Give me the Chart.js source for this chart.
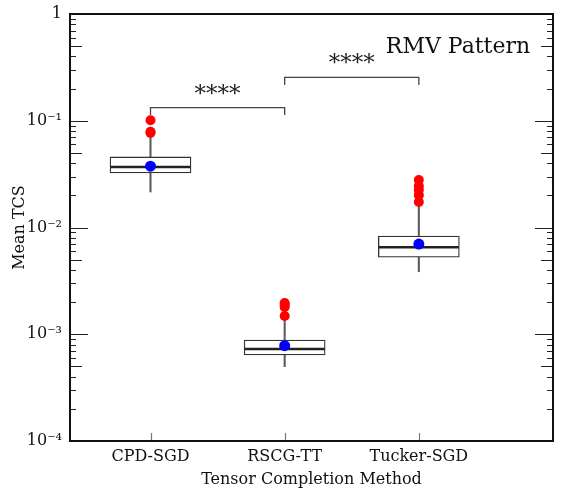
<!DOCTYPE html>
<html>
<head>
<meta charset="utf-8">
<script src="https://cdn.jsdelivr.net/npm/chart.js@4.4.1/dist/chart.umd.min.js"></script>
<style>
  html, body { margin: 0; padding: 0; background: #fff; }
</style>
</head>
<body>
<canvas id="myChart" width="566" height="490"></canvas>
<script>
// data
const methods = ["CPD-SGD", "RSCG-TT", "Tucker-SGD"];
const q1 = [0.0324, 0.000639, 0.00526];
const q3 = [0.0458, 0.000883, 0.00832];
const medians = [0.0369, 0.000727, 0.00652];
const means = [0.0375, 0.000781, 0.0070];
const whiskerLow = [0.0215, 0.000497, 0.00385];
const whiskerHigh = [0.0704, 0.00136, 0.0163];
const outliers = [
  [0.101, 0.0790, 0.0770],
  [0.00196, 0.00188, 0.00180, 0.00148],
  [0.0279, 0.0245, 0.0225, 0.0201, 0.0173]
];
const yTicks = [1e-4, 1e-3, 1e-2, 1e-1, 1];
const yTickLabels = ["10⁻⁴", "10⁻³", "10⁻²", "10⁻¹", "1"];
const brackets = [[0, 1], [1, 2]];
const bracketTop = [0.1325, 0.255];
const bracketLeg = [0.113, 0.216];
const bracketText = ["****", "****"];
const titleText = "RMV Pattern";

const serif = "'DejaVu Serif', serif";

let datasets = [];

// mean markers
datasets.push({
  type: 'scatter',
  order: 0,
  data: means.map((v, i) => ({x: i, y: v})),
  pointRadius: 5.5,
  pointBackgroundColor: '#0000ff',
  pointBorderWidth: 0
});

// outliers
datasets.push({
  type: 'scatter',
  order: 1,
  data: outliers.flatMap((arr, i) => arr.map(v => ({x: i, y: v}))),
  pointRadius: 5,
  pointBackgroundColor: '#ff0000',
  pointBorderWidth: 0
});

// median lines
datasets.push({
  type: 'scatter',
  order: 2,
  data: medians.map((v, i) => ({x: i, y: v})),
  pointStyle: 'line',
  pointRadius: 40,
  pointBorderColor: '#222',
  pointBorderWidth: 2.5
});

// boxes
datasets.push({
  type: 'bar',
  order: 3,
  grouped: false,
  data: q1.map((v, i) => ({x: i, y: [v, q3[i]]})),
  barThickness: 81,
  backgroundColor: '#ffffff',
  borderColor: '#333',
  borderWidth: 1.3,
  borderSkipped: false
});

// whiskers
datasets.push({
  type: 'bar',
  order: 4,
  grouped: false,
  data: whiskerLow.map((v, i) => ({x: i, y: [v, whiskerHigh[i]]})),
  barThickness: 1.4,
  backgroundColor: '#5a5a5a',
  borderWidth: 0
});

// significance brackets
brackets.forEach((pair, k) => {
  datasets.push({
    type: 'line',
    order: 5,
    data: [
      {x: pair[0], y: bracketLeg[k]},
      {x: pair[0], y: bracketTop[k]},
      {x: pair[1], y: bracketTop[k]},
      {x: pair[1], y: bracketLeg[k]}
    ],
    borderColor: '#444',
    borderWidth: 1.3,
    pointRadius: 0,
    fill: false,
    tension: 0
  });
});

let minorTicks = [];
for (let e = -4; e < 0; e++) {
  for (let m = 2; m <= 9; m++) minorTicks.push(m * Math.pow(10, e));
}

const extras = {
  id: 'extras',
  afterDatasetsDraw(chart) {
    const {ctx, chartArea: a, scales: {x, y}} = chart;
    ctx.save();

    // y ticks, inside, both sides
    ctx.strokeStyle = '#222';
    ctx.lineWidth = 1.2;
    const drawY = (v, len) => {
      const py = Math.round(y.getPixelForValue(v)) + 0.5;
      ctx.beginPath();
      ctx.moveTo(a.left, py); ctx.lineTo(a.left + len, py);
      ctx.moveTo(a.right, py); ctx.lineTo(a.right - len, py);
      ctx.stroke();
    };
    yTicks.forEach(v => drawY(v, 18));
    minorTicks.forEach(v => {
      const m = Math.round(v / Math.pow(10, Math.floor(Math.log10(v) + 1e-9)));
      drawY(v, m === 5 ? 12 : 6);
    });

    // x ticks
    ctx.strokeStyle = '#777';
    methods.forEach((m, i) => {
      const px = Math.round(x.getPixelForValue(i)) + 0.5;
      ctx.beginPath();
      ctx.moveTo(px, a.bottom); ctx.lineTo(px, a.bottom - 8);
      ctx.stroke();
    });

    // frame
    ctx.strokeStyle = '#111';
    ctx.lineWidth = 2;
    ctx.strokeRect(a.left, a.top, a.right - a.left, a.bottom - a.top);

    // bracket labels
    ctx.fillStyle = '#222';
    ctx.font = "23px " + serif;
    ctx.textAlign = 'center';
    ctx.textBaseline = 'alphabetic';
    brackets.forEach((pair, k) => {
      const px = (x.getPixelForValue(pair[0]) + x.getPixelForValue(pair[1])) / 2;
      const py = y.getPixelForValue(bracketTop[k]);
      ctx.fillText(bracketText[k], px, py - 7);
    });

    // panel title
    ctx.fillStyle = '#111';
    ctx.font = "22px " + serif;
    ctx.textAlign = 'center';
    ctx.fillText(titleText, 458, 53);

    ctx.restore();
  }
};

new Chart(document.getElementById('myChart'), {
  type: 'scatter',
  data: { datasets: datasets },
  options: {
    responsive: false,
    animation: false,
    devicePixelRatio: 1,
    layout: { autoPadding: false, padding: { top: 14, right: 13, left: 0, bottom: 0 } },
    plugins: {
      legend: { display: false },
      tooltip: { enabled: false }
    },
    scales: {
      x: {
        type: 'linear',
        min: -0.6,
        max: 3.0,
        offset: false,
        afterBuildTicks: s => { s.ticks = methods.map((m, i) => ({value: i})); },
        afterFit: s => { s.height = 49; s.paddingLeft = 0; s.paddingRight = 0; },
        grid: { display: false, drawTicks: false },
        border: { display: false },
        ticks: {
          padding: 6,
          color: '#111',
          font: { family: serif, size: 16 },
          maxRotation: 0,
          callback: v => methods[v]
        },
        title: {
          display: true,
          text: 'Tensor Completion Method',
          color: '#111',
          font: { family: serif, size: 16 },
          padding: { top: 0, bottom: 1 }
        }
      },
      y: {
        type: 'logarithmic',
        min: 1e-4,
        max: 1,
        afterBuildTicks: s => { s.ticks = yTicks.map(v => ({value: v})); },
        afterFit: s => { s.width = 70; s.paddingTop = 0; s.paddingBottom = 0; },
        grid: { display: false, drawTicks: false },
        border: { display: false },
        ticks: {
          padding: 8,
          color: '#111',
          font: { family: serif, size: 16 },
          autoSkip: false,
          callback: (v, i) => yTickLabels[i]
        },
        title: {
          display: true,
          text: 'Mean TCS',
          color: '#111',
          font: { family: serif, size: 16 },
          padding: { top: 10, bottom: 0 }
        }
      }
    }
  },
  plugins: [extras]
});
</script>
</body>
</html>
